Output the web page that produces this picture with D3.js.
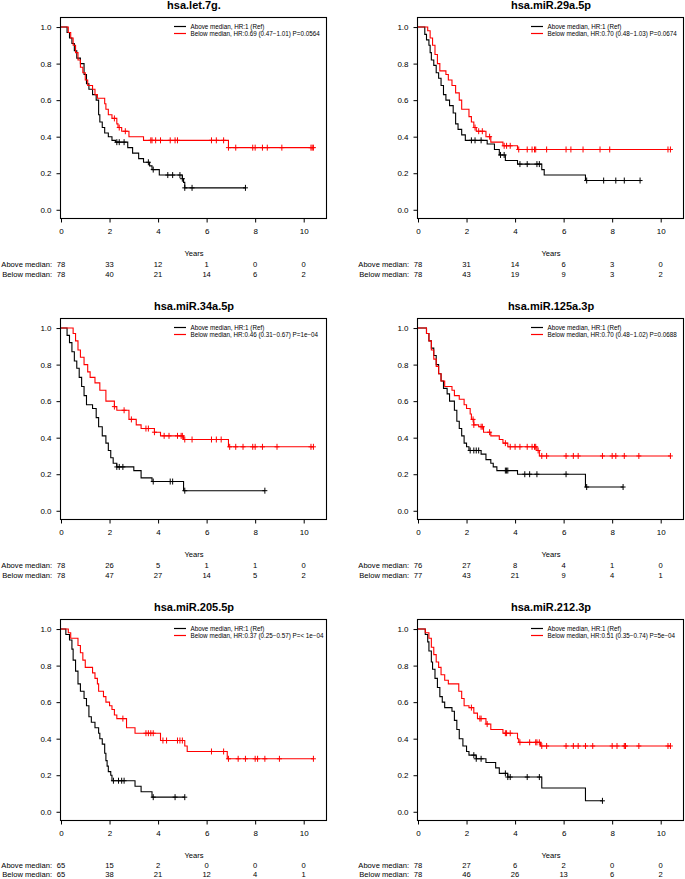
<!DOCTYPE html>
<html><head><meta charset="utf-8">
<script src="https://cdn.jsdelivr.net/npm/d3@7"></script>
<style>body{margin:0;background:#fff} text{font-family:"Liberation Sans",Arial,Helvetica,sans-serif;fill:#000}</style>
</head><body><svg id="c" width="685" height="879"></svg>
<script>
const titles = ["hsa.let.7g.", "hsa.miR.29a.5p", "hsa.miR.34a.5p", "hsa.miR.125a.3p", "hsa.miR.205.5p", "hsa.miR.212.3p"];
const aboveLabel = "Above median, HR:1 (Ref)";
const belowLabels = [
  "Below median, HR:0.69 (0.47\u22121.01) P=0.0564",
  "Below median, HR:0.70 (0.48\u22121.03) P=0.0674",
  "Below median, HR:0.46 (0.31\u22120.67) P=1e\u221204",
  "Below median, HR:0.70 (0.48\u22121.02) P=0.0688",
  "Below median, HR:0.37 (0.25\u22120.57) P=< 1e\u221204",
  "Below median, HR:0.51 (0.35\u22120.74) P=5e\u221204"
];
const timeTicks = [0, 2, 4, 6, 8, 10];
const survTicks = [0, 0.2, 0.4, 0.6, 0.8, 1.0];
const riskAbove = [
  [78, 33, 12, 1, 0, 0], [78, 31, 14, 6, 3, 0], [78, 26, 5, 1, 1, 0],
  [76, 27, 8, 4, 1, 0], [65, 15, 2, 0, 0, 0], [78, 27, 6, 2, 0, 0]
];
const riskBelow = [
  [78, 40, 21, 14, 6, 2], [78, 43, 19, 9, 3, 2], [78, 47, 27, 14, 5, 2],
  [77, 43, 21, 9, 4, 1], [65, 38, 21, 12, 4, 1], [78, 46, 26, 13, 6, 2]
];
// step points [time, survival after drop]
const aboveSteps = [
  [[0.25,0.97],[0.35,0.94],[0.45,0.91],[0.55,0.87],[0.65,0.83],[0.8,0.80],[0.95,0.74],[1.05,0.69],[1.15,0.66],[1.3,0.63],[1.45,0.60],[1.55,0.52],[1.6,0.48],[1.7,0.45],[1.8,0.42],[1.95,0.40],[2.1,0.38],[2.25,0.37],[2.75,0.34],[2.95,0.31],[3.2,0.28],[3.4,0.26],[3.65,0.24],[3.75,0.22],[4.05,0.19],[5.0,0.17],[5.05,0.15],[5.1,0.12]],
  [[0.28,0.96],[0.35,0.93],[0.45,0.90],[0.5,0.86],[0.55,0.82],[0.65,0.79],[0.75,0.75],[0.85,0.72],[0.95,0.68],[1.05,0.63],[1.15,0.60],[1.3,0.57],[1.45,0.53],[1.55,0.47],[1.65,0.44],[1.8,0.41],[1.95,0.38],[2.85,0.36],[3.15,0.33],[3.35,0.30],[3.6,0.27],[4.1,0.25],[5.1,0.22],[5.2,0.19],[6.9,0.16]],
  [[0.25,0.96],[0.35,0.92],[0.45,0.87],[0.55,0.82],[0.65,0.78],[0.75,0.73],[0.85,0.68],[0.95,0.63],[1.05,0.58],[1.3,0.56],[1.45,0.51],[1.55,0.46],[1.7,0.41],[1.85,0.37],[1.95,0.33],[2.05,0.29],[2.15,0.26],[2.3,0.24],[3.0,0.22],[3.3,0.18],[3.75,0.16],[5.05,0.11]],
  [[0.35,0.97],[0.45,0.93],[0.55,0.89],[0.65,0.85],[0.75,0.80],[0.85,0.75],[0.95,0.71],[1.05,0.67],[1.2,0.64],[1.3,0.60],[1.5,0.55],[1.6,0.49],[1.7,0.45],[1.8,0.41],[1.9,0.37],[2.0,0.35],[2.1,0.33],[2.6,0.31],[2.8,0.28],[3.0,0.26],[3.1,0.24],[3.25,0.22],[4.1,0.20],[6.9,0.13]],
  [[0.2,0.97],[0.35,0.94],[0.45,0.89],[0.5,0.83],[0.6,0.77],[0.7,0.70],[0.8,0.66],[0.95,0.62],[1.05,0.58],[1.15,0.52],[1.25,0.49],[1.4,0.46],[1.55,0.43],[1.6,0.40],[1.7,0.37],[1.8,0.32],[1.85,0.28],[1.9,0.25],[1.95,0.22],[2.05,0.20],[2.1,0.17],[3.05,0.14],[3.3,0.11],[3.75,0.08]],
  [[0.3,0.97],[0.4,0.93],[0.45,0.88],[0.55,0.82],[0.6,0.78],[0.7,0.73],[0.8,0.68],[0.9,0.63],[1.0,0.60],[1.1,0.57],[1.4,0.55],[1.5,0.50],[1.6,0.45],[1.7,0.40],[1.85,0.36],[2.0,0.33],[2.1,0.31],[2.4,0.29],[2.8,0.27],[3.2,0.24],[3.35,0.21],[3.7,0.19],[5.1,0.13],[6.9,0.06]]
];
const aboveCensor = [
  [2.3,2.4,2.6,3.6,3.8,4.4,4.6,4.9,5.0,5.1,5.4,7.6],
  [2.2,2.35,2.6,3.4,3.55,4.2,4.5,4.9,5.0,6.95,7.65,8.15,8.5,9.15],
  [2.3,2.4,2.55,3.8,4.5,4.6,5.1,8.4],
  [2.15,2.3,2.4,2.5,3.6,3.65,3.7,4.4,4.6,4.9,6.1,6.95,8.45],
  [2.16,2.37,2.5,2.6,3.8,4.7,5.1],
  [2.3,2.4,2.6,3.6,3.7,3.8,4.5,5.0,7.6]
];
const belowSteps = [
  [[0.3,0.97],[0.4,0.94],[0.5,0.90],[0.6,0.86],[0.7,0.82],[0.8,0.78],[0.9,0.75],[1.0,0.71],[1.1,0.68],[1.3,0.66],[1.4,0.63],[1.5,0.61],[1.8,0.58],[1.85,0.55],[1.95,0.52],[2.1,0.50],[2.3,0.47],[2.35,0.45],[2.5,0.43],[2.8,0.40],[3.4,0.38],[6.9,0.34]],
  [[0.4,0.98],[0.5,0.94],[0.6,0.90],[0.7,0.85],[0.8,0.80],[0.9,0.76],[1.15,0.74],[1.25,0.71],[1.4,0.68],[1.55,0.64],[1.7,0.60],[1.8,0.55],[2.1,0.51],[2.2,0.48],[2.3,0.45],[2.4,0.43],[2.8,0.40],[3.0,0.37],[3.5,0.35],[4.1,0.33]],
  [[0.5,0.97],[0.6,0.93],[0.7,0.88],[0.8,0.84],[0.95,0.80],[1.1,0.76],[1.2,0.73],[1.4,0.70],[1.6,0.66],[1.85,0.60],[2.2,0.57],[2.3,0.55],[2.8,0.50],[3.1,0.47],[3.3,0.45],[3.85,0.43],[4.1,0.41],[5.05,0.39],[6.9,0.35]],
  [[0.35,0.97],[0.45,0.93],[0.55,0.88],[0.65,0.83],[0.75,0.79],[0.85,0.75],[0.95,0.71],[1.1,0.68],[1.4,0.66],[1.5,0.63],[1.7,0.61],[1.9,0.58],[2.0,0.56],[2.15,0.53],[2.2,0.50],[2.3,0.47],[2.5,0.46],[2.7,0.43],[3.0,0.41],[3.35,0.39],[3.5,0.37],[3.7,0.35],[4.9,0.33],[5.0,0.30]],
  [[0.3,0.98],[0.4,0.95],[0.7,0.91],[0.8,0.87],[0.9,0.83],[1.0,0.79],[1.3,0.76],[1.4,0.73],[1.5,0.70],[1.55,0.66],[1.75,0.63],[1.85,0.60],[2.0,0.58],[2.1,0.56],[2.2,0.53],[2.3,0.51],[2.7,0.46],[3.05,0.43],[4.1,0.39],[5.1,0.36],[5.2,0.33],[6.85,0.29]],
  [[0.3,0.98],[0.45,0.95],[0.55,0.90],[0.65,0.86],[0.75,0.82],[0.85,0.79],[0.95,0.75],[1.1,0.72],[1.25,0.70],[1.68,0.66],[1.8,0.62],[1.9,0.58],[2.1,0.57],[2.3,0.54],[2.45,0.51],[2.8,0.48],[3.0,0.45],[3.5,0.43],[4.1,0.40],[4.15,0.38],[5.05,0.36]]
];
const belowCensor = [
  [2.2,2.4,2.65,3.7,3.75,3.9,4.1,4.5,4.7,4.8,6.2,6.4,6.7,6.9,7.2,7.9,8.0,8.3,8.5,9.1,10.3,10.35,10.4],
  [2.35,2.5,2.65,2.95,3.55,3.65,3.8,4.15,4.5,4.7,4.8,4.85,5.3,6.1,6.3,6.8,7.5,7.9,10.3,10.4],
  [2.2,2.6,2.9,3.5,3.6,3.85,4.25,4.45,4.8,4.95,5.0,5.1,5.4,6.2,6.4,6.6,6.95,7.2,7.5,7.9,8.0,8.3,8.9,10.3,10.4],
  [2.27,2.3,2.6,2.65,2.95,3.6,3.8,4.0,4.2,4.5,4.7,4.8,4.85,4.95,5.1,5.3,6.1,6.4,6.6,7.6,8.0,8.15,8.5,9.1,10.4],
  [2.55,3.5,3.6,3.7,3.8,4.2,4.35,4.8,4.9,5.0,6.2,6.7,6.9,7.3,7.6,8.0,8.1,8.4,9.0,10.4],
  [2.2,2.55,2.6,2.85,3.6,3.65,3.8,4.2,4.6,4.85,4.9,5.0,5.1,5.3,6.1,6.4,6.6,6.9,7.2,8.0,8.2,8.5,8.55,9.1,10.3,10.4]
];

const svg = d3.select("#c");
const colLeft = [61, 418];
const boxW = 266, boxH = 201;
const rowTop = [17, 318, 619];
const riskGap = [[46.5, 56.5], [46.5, 56.5], [45.5, 54]];

function survAt(steps, t) {
  let s = 1;
  for (const [st, sv] of steps) { if (st <= t) s = sv; }
  return s;
}

titles.forEach((title, i) => {
  const col = i % 2, row = Math.floor(i / 2);
  const L = colLeft[col], T = rowTop[row];
  const x = d3.scaleLinear().domain([0, 10.96]).range([L, L + boxW]);
  const y = d3.scaleLinear().domain([-0.045, 1.055]).range([T + boxH, T]);
  const g = svg.append("g");

  g.append("rect").attr("x", L - 0.5).attr("y", T + 0.5).attr("width", boxW).attr("height", boxH)
    .attr("fill", "none").attr("stroke", "#000").attr("stroke-width", 1.1);

  const xa = g.append("g").attr("transform", `translate(0,${T + boxH + 0.5})`)
    .call(d3.axisBottom(x).tickValues(timeTicks).tickSize(4).tickPadding(6).tickFormat(d3.format("d")));
  xa.select(".domain").remove();
  xa.selectAll("text").attr("font-size", 8).attr("font-family", "Liberation Sans, Arial, sans-serif").attr("fill", "#000");
  const ya = g.append("g").attr("transform", `translate(${L - 0.5},0)`)
    .call(d3.axisLeft(y).tickValues(survTicks).tickSize(4).tickPadding(5).tickFormat(d3.format(".1f")));
  ya.select(".domain").remove();
  ya.selectAll("text").attr("font-size", 8).attr("font-family", "Liberation Sans, Arial, sans-serif").attr("fill", "#000");

  g.append("text").attr("x", L + boxW / 2).attr("y", T - 8).attr("text-anchor", "middle")
    .attr("font-size", 11).attr("font-weight", "bold").text(title);

  const curves = [
    {steps: aboveSteps[i], cens: aboveCensor[i], color: "#000"},
    {steps: belowSteps[i], cens: belowCensor[i], color: "#ff0000"}
  ];
  curves.forEach(c => {
    const endT = Math.max(d3.max(c.cens), d3.max(c.steps, d => d[0]));
    const pts = [[0, 1]];
    let s = 1;
    c.steps.forEach(([t, v]) => { pts.push([t, s]); pts.push([t, v]); s = v; });
    pts.push([endT, s]);
    const line = d3.line().x(d => x(d[0])).y(d => y(d[1]));
    g.append("path").attr("d", line(pts)).attr("fill", "none").attr("stroke", c.color).attr("stroke-width", 1.1);
    c.cens.forEach(t => {
      const cx = x(t), cy = y(survAt(c.steps, t));
      g.append("path").attr("d", `M${cx - 2.5},${cy}H${cx + 2.5}M${cx},${cy - 3}V${cy + 3}`)
        .attr("stroke", c.color).attr("stroke-width", 1).attr("fill", "none");
    });
  });

  const lx = L + 113, ly = T + 9.5;
  [[aboveLabel, "#000000"], [belowLabels[i], "#ff0000"]].forEach(([txt, lc], k) => {
    const yy = ly + k * 7;
    g.append("line").attr("x1", lx).attr("x2", lx + 12).attr("y1", yy).attr("y2", yy)
      .attr("stroke", lc).attr("stroke-width", 1.2);
    g.append("text").attr("x", lx + 16.5).attr("y", yy).attr("dominant-baseline", "central")
      .attr("font-size", 6.3).text(txt);
  });

  g.append("text").attr("x", L + boxW / 2).attr("y", T + boxH + 35.5).attr("text-anchor", "middle")
    .attr("dominant-baseline", "central").attr("font-size", 7.6).text("Years");

  [["Above median:", riskAbove[i]], ["Below median:", riskBelow[i]]].forEach(([lab, vals], k) => {
    const yy = T + boxH + riskGap[row][k];
    g.append("text").attr("x", x(0) - 9).attr("y", yy).attr("text-anchor", "end")
      .attr("dominant-baseline", "central").attr("font-size", 7.6).text(lab);
    vals.forEach((v, j) => {
      g.append("text").attr("x", x(timeTicks[j])).attr("y", yy).attr("text-anchor", "middle")
        .attr("dominant-baseline", "central").attr("font-size", 7.6).text(v);
    });
  });
});
</script>
</body></html>
